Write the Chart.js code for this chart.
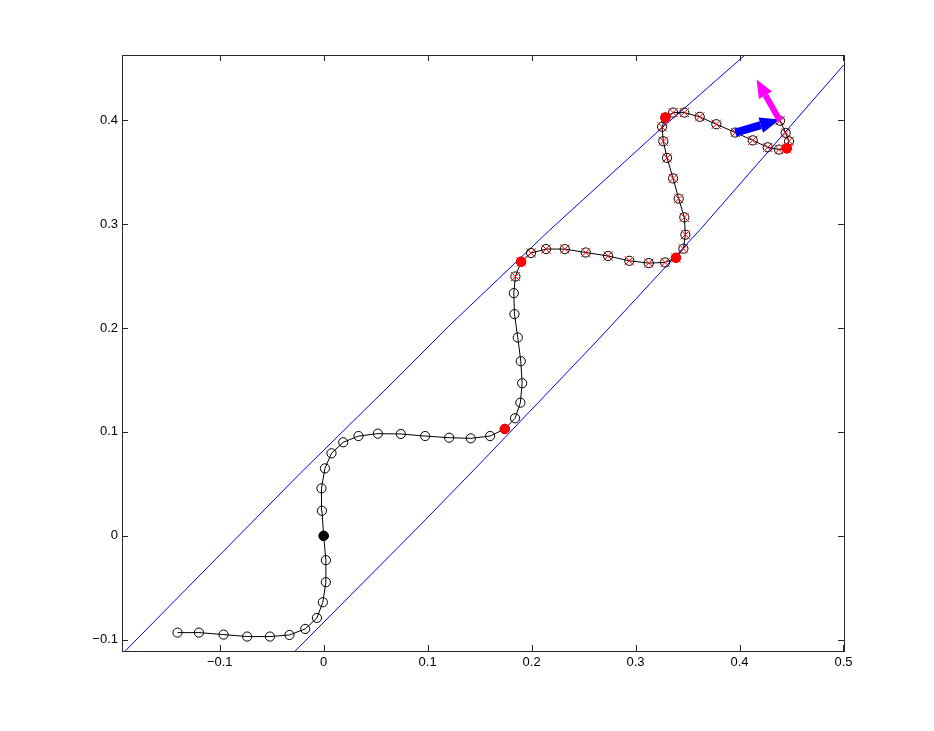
<!DOCTYPE html>
<html>
<head>
<meta charset="utf-8">
<script src="https://cdn.jsdelivr.net/npm/chart.js@4.4.0/dist/chart.umd.min.js"></script>
<style>
  body { margin: 0; background: #fff; }
  #wrap { width: 934px; height: 731px; }
</style>
</head>
<body>
<div id="wrap"><canvas id="pathChart" width="934" height="731"></canvas></div>
<script>
// trajectory
const pathX = [-0.1406, -0.1200, -0.0963, -0.0736, -0.0517, -0.0329, -0.0178, -0.0065, -0.0008, 0.0021,
  0.0021, 0.0000, -0.0017, -0.0021, 0.0012, 0.0075, 0.0188, 0.0335, 0.0521, 0.0742,
  0.0976, 0.1207, 0.1415, 0.1601, 0.1742, 0.1841, 0.1892, 0.1909, 0.1896, 0.1867,
  0.1835, 0.1829, 0.1844, 0.1899, 0.1995, 0.2139, 0.2319, 0.2521, 0.2736, 0.2940,
  0.3127, 0.3284, 0.3389, 0.3460, 0.3479, 0.3469, 0.3415, 0.3361, 0.3303, 0.3267,
  0.3255, 0.3287, 0.3361, 0.3469, 0.3617, 0.3777, 0.3960, 0.4127, 0.4271, 0.4380,
  0.4454, 0.4476, 0.4444, 0.4389];
const pathY = [-0.0931, -0.0931, -0.0950, -0.0969, -0.0969, -0.0954, -0.0896, -0.0790, -0.0639, -0.0446,
  -0.0234, 0.0000, 0.0241, 0.0457, 0.0649, 0.0794, 0.0900, 0.0960, 0.0983, 0.0980,
  0.0960, 0.0944, 0.0938, 0.0960, 0.1028, 0.1131, 0.1281, 0.1468, 0.1680, 0.1908,
  0.2133, 0.2335, 0.2495, 0.2637, 0.2721, 0.2759, 0.2759, 0.2726, 0.2692, 0.2646,
  0.2624, 0.2630, 0.2675, 0.2762, 0.2897, 0.3064, 0.3244, 0.3439, 0.3636, 0.3796,
  0.3935, 0.4024, 0.4072, 0.4072, 0.4031, 0.3960, 0.3880, 0.3805, 0.3738, 0.3716,
  0.3728, 0.3796, 0.3877, 0.3993];
const startIdx = 11;               // black filled point
const redIdx = [24, 33, 42, 51, 60]; // red filled points
const crossFrom = 32;              // red x marks from here to the end

// corridor edges
const upperX = [-0.1909, -0.0226, 0.0688, 0.1216, 0.2178, 0.3236, 0.4053];
const upperY = [-0.1108, 0.0601, 0.1500, 0.2030, 0.2945, 0.3909, 0.4626];
const lowerX = [-0.0274, 0.0928, 0.1537, 0.2639, 0.3620, 0.4293, 0.5005];
const lowerY = [-0.1108, 0.0103, 0.0729, 0.1886, 0.2945, 0.3716, 0.4534];

// arrows [tail, tip]
const blueArrow = [[0.3960, 0.3880], [0.4389, 0.4006]];
const magentaArrow = [[0.4389, 0.3993], [0.4164, 0.4390]];

const xTicks = [-0.1, 0, 0.1, 0.2, 0.3, 0.4, 0.5];
const yTicks = [-0.1, 0, 0.1, 0.2, 0.3, 0.4];

const pts = (xs, ys) => xs.map((v, i) => ({ x: v, y: ys[i] }));
const path = pts(pathX, pathY);

const arrowPlugin = {
  id: 'arrows',
  afterDatasetsDraw(chart) {
    const { ctx, scales: { x, y } } = chart;
    const draw = (a, color, shaft, headLen, headW) => {
      const x1 = x.getPixelForValue(a[0][0]), y1 = y.getPixelForValue(a[0][1]);
      const x2 = x.getPixelForValue(a[1][0]), y2 = y.getPixelForValue(a[1][1]);
      const ang = Math.atan2(y2 - y1, x2 - x1);
      const bx = x2 - Math.cos(ang) * headLen, by = y2 - Math.sin(ang) * headLen;
      ctx.save();
      ctx.strokeStyle = color;
      ctx.fillStyle = color;
      ctx.lineWidth = shaft;
      ctx.beginPath();
      ctx.moveTo(x1, y1);
      ctx.lineTo(bx, by);
      ctx.stroke();
      ctx.beginPath();
      ctx.moveTo(x2, y2);
      ctx.lineTo(bx + Math.sin(ang) * headW / 2, by - Math.cos(ang) * headW / 2);
      ctx.lineTo(bx - Math.sin(ang) * headW / 2, by + Math.cos(ang) * headW / 2);
      ctx.closePath();
      ctx.fill();
      ctx.restore();
    };
    draw(blueArrow, '#0000ff', 8, 20, 16);
    draw(magentaArrow, '#ff00ff', 6, 18, 15);
  }
};

// matlab style box with inward ticks
const boxPlugin = {
  id: 'box',
  afterDraw(chart) {
    const { ctx, chartArea: a, scales: { x, y } } = chart;
    ctx.save();
    ctx.strokeStyle = '#262626';
    ctx.lineWidth = 1;
    ctx.beginPath();
    xTicks.forEach(v => {
      const px = Math.round(x.getPixelForValue(v)) + 0.5;
      ctx.moveTo(px, a.bottom); ctx.lineTo(px, a.bottom - 6);
      ctx.moveTo(px, a.top); ctx.lineTo(px, a.top + 6);
    });
    yTicks.forEach(v => {
      const py = Math.round(y.getPixelForValue(v)) + 0.5;
      ctx.moveTo(a.left, py); ctx.lineTo(a.left + 6, py);
      ctx.moveTo(a.right, py); ctx.lineTo(a.right - 6, py);
    });
    ctx.stroke();
    ctx.strokeRect(Math.round(a.left) + 0.5, Math.round(a.top) + 0.5,
      Math.round(a.right - a.left), Math.round(a.bottom - a.top));
    ctx.restore();
  }
};

const fmt = v => (v < 0 ? '\u2212' + Math.abs(v) : String(v));
const tickFont = { family: "'Liberation Sans', Arial, sans-serif", size: 13 };

new Chart(document.getElementById('pathChart'), {
  type: 'scatter',
  data: {
    datasets: [
      {
        data: path.slice(crossFrom),
        pointStyle: 'crossRot',
        pointRadius: 6.5,
        pointBorderColor: '#ff0000',
        pointBorderWidth: 1,
        showLine: false,
        order: 1
      },
      {
        data: redIdx.map(i => path[i]),
        pointRadius: 4.7,
        pointBackgroundColor: '#ff0000',
        pointBorderColor: '#ff0000',
        showLine: false,
        order: 0
      },
      {
        data: [path[startIdx]],
        pointRadius: 4.7,
        pointBackgroundColor: '#000',
        pointBorderColor: '#000',
        showLine: false,
        order: 0
      },
      {
        data: path,
        showLine: true,
        borderColor: '#000',
        borderWidth: 1,
        pointRadius: 4.6,
        pointBackgroundColor: 'rgba(0,0,0,0)',
        pointBorderColor: '#000',
        pointBorderWidth: 1,
        order: 2
      },
      {
        data: pts(upperX, upperY),
        showLine: true,
        borderColor: 'rgb(0,0,255)',
        backgroundColor: 'rgb(0,0,255)',
        borderWidth: 1,
        pointRadius: 0,
        order: 3
      },
      {
        data: pts(lowerX, lowerY),
        showLine: true,
        borderColor: 'rgb(0,0,255)',
        backgroundColor: 'rgb(0,0,255)',
        borderWidth: 1,
        pointRadius: 0,
        order: 3
      }
    ]
  },
  options: {
    responsive: false,
    animation: false,
    events: [],
    layout: { padding: { left: 82, top: 55, right: 90, bottom: 50 } },
    plugins: { legend: { display: false }, tooltip: { enabled: false } },
    scales: {
      x: {
        type: 'linear',
        min: -0.194,
        max: 0.5005,
        grid: { display: false, drawTicks: false },
        border: { display: false },
        afterBuildTicks: s => { s.ticks = xTicks.map(v => ({ value: v })); },
        afterFit: s => { s.height = 30; },
        ticks: { color: '#000', font: tickFont, padding: 4, maxRotation: 0, callback: fmt }
      },
      y: {
        type: 'linear',
        min: -0.1108,
        max: 0.4626,
        grid: { display: false, drawTicks: false },
        border: { display: false },
        afterBuildTicks: s => { s.ticks = yTicks.map(v => ({ value: v })); },
        afterFit: s => { s.width = 40; },
        ticks: { color: '#000', font: tickFont, padding: 4, callback: fmt }
      }
    }
  },
  plugins: [arrowPlugin, boxPlugin]
});
</script>
</body>
</html>
